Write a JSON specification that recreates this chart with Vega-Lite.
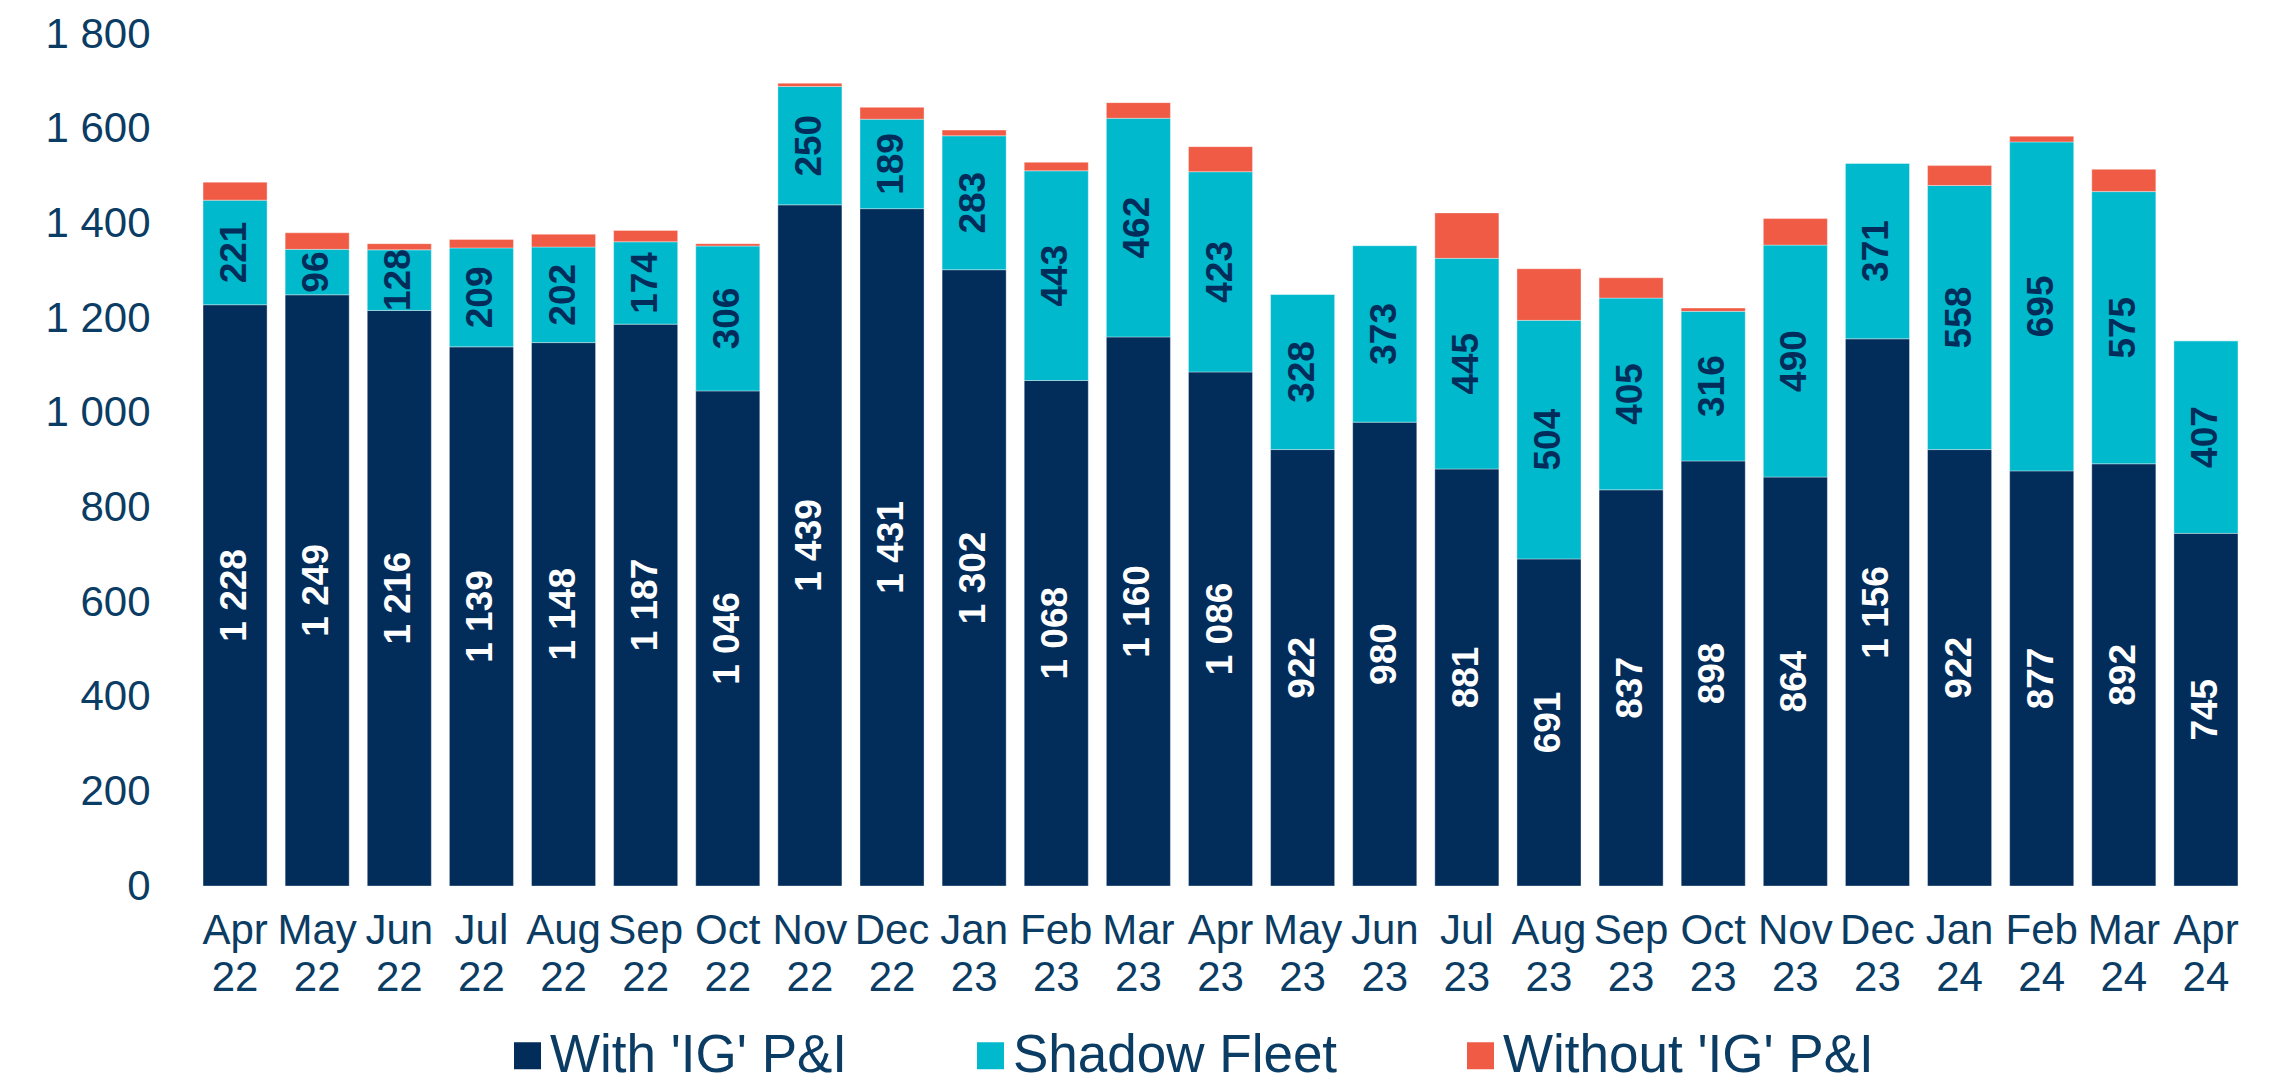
{
  "$schema": "https://vega.github.io/schema/vega-lite/v6.json",
  "width": 2053,
  "height": 852,
  "autosize": {"type": "none"},
  "padding": {"left": 194, "top": 34, "right": 35, "bottom": 196},
  "background": "white",
  "config": {
    "locale": {"number": {"decimal": ".", "thousands": " ", "grouping": [3], "currency": ["", ""]}},
    "font": "Liberation Sans",
    "view": {"stroke": null}
  },
  "data": {"values": [
    {"m": "Apr 22", "s": "With 'IG' P&I", "v": 1228}, {"m": "Apr 22", "s": "Shadow Fleet", "v": 221}, {"m": "Apr 22", "s": "Without 'IG' P&I", "v": 38},
    {"m": "May 22", "s": "With 'IG' P&I", "v": 1249}, {"m": "May 22", "s": "Shadow Fleet", "v": 96}, {"m": "May 22", "s": "Without 'IG' P&I", "v": 35},
    {"m": "Jun 22", "s": "With 'IG' P&I", "v": 1216}, {"m": "Jun 22", "s": "Shadow Fleet", "v": 128}, {"m": "Jun 22", "s": "Without 'IG' P&I", "v": 13},
    {"m": "Jul 22", "s": "With 'IG' P&I", "v": 1139}, {"m": "Jul 22", "s": "Shadow Fleet", "v": 209}, {"m": "Jul 22", "s": "Without 'IG' P&I", "v": 18},
    {"m": "Aug 22", "s": "With 'IG' P&I", "v": 1148}, {"m": "Aug 22", "s": "Shadow Fleet", "v": 202}, {"m": "Aug 22", "s": "Without 'IG' P&I", "v": 27},
    {"m": "Sep 22", "s": "With 'IG' P&I", "v": 1187}, {"m": "Sep 22", "s": "Shadow Fleet", "v": 174}, {"m": "Sep 22", "s": "Without 'IG' P&I", "v": 24},
    {"m": "Oct 22", "s": "With 'IG' P&I", "v": 1046}, {"m": "Oct 22", "s": "Shadow Fleet", "v": 306}, {"m": "Oct 22", "s": "Without 'IG' P&I", "v": 5},
    {"m": "Nov 22", "s": "With 'IG' P&I", "v": 1439}, {"m": "Nov 22", "s": "Shadow Fleet", "v": 250}, {"m": "Nov 22", "s": "Without 'IG' P&I", "v": 7},
    {"m": "Dec 22", "s": "With 'IG' P&I", "v": 1431}, {"m": "Dec 22", "s": "Shadow Fleet", "v": 189}, {"m": "Dec 22", "s": "Without 'IG' P&I", "v": 25},
    {"m": "Jan 23", "s": "With 'IG' P&I", "v": 1302}, {"m": "Jan 23", "s": "Shadow Fleet", "v": 283}, {"m": "Jan 23", "s": "Without 'IG' P&I", "v": 12},
    {"m": "Feb 23", "s": "With 'IG' P&I", "v": 1068}, {"m": "Feb 23", "s": "Shadow Fleet", "v": 443}, {"m": "Feb 23", "s": "Without 'IG' P&I", "v": 18},
    {"m": "Mar 23", "s": "With 'IG' P&I", "v": 1160}, {"m": "Mar 23", "s": "Shadow Fleet", "v": 462}, {"m": "Mar 23", "s": "Without 'IG' P&I", "v": 33},
    {"m": "Apr 23", "s": "With 'IG' P&I", "v": 1086}, {"m": "Apr 23", "s": "Shadow Fleet", "v": 423}, {"m": "Apr 23", "s": "Without 'IG' P&I", "v": 53},
    {"m": "May 23", "s": "With 'IG' P&I", "v": 922}, {"m": "May 23", "s": "Shadow Fleet", "v": 328}, {"m": "May 23", "s": "Without 'IG' P&I", "v": 0},
    {"m": "Jun 23", "s": "With 'IG' P&I", "v": 980}, {"m": "Jun 23", "s": "Shadow Fleet", "v": 373}, {"m": "Jun 23", "s": "Without 'IG' P&I", "v": 0},
    {"m": "Jul 23", "s": "With 'IG' P&I", "v": 881}, {"m": "Jul 23", "s": "Shadow Fleet", "v": 445}, {"m": "Jul 23", "s": "Without 'IG' P&I", "v": 96},
    {"m": "Aug 23", "s": "With 'IG' P&I", "v": 691}, {"m": "Aug 23", "s": "Shadow Fleet", "v": 504}, {"m": "Aug 23", "s": "Without 'IG' P&I", "v": 109},
    {"m": "Sep 23", "s": "With 'IG' P&I", "v": 837}, {"m": "Sep 23", "s": "Shadow Fleet", "v": 405}, {"m": "Sep 23", "s": "Without 'IG' P&I", "v": 43},
    {"m": "Oct 23", "s": "With 'IG' P&I", "v": 898}, {"m": "Oct 23", "s": "Shadow Fleet", "v": 316}, {"m": "Oct 23", "s": "Without 'IG' P&I", "v": 7},
    {"m": "Nov 23", "s": "With 'IG' P&I", "v": 864}, {"m": "Nov 23", "s": "Shadow Fleet", "v": 490}, {"m": "Nov 23", "s": "Without 'IG' P&I", "v": 56},
    {"m": "Dec 23", "s": "With 'IG' P&I", "v": 1156}, {"m": "Dec 23", "s": "Shadow Fleet", "v": 371}, {"m": "Dec 23", "s": "Without 'IG' P&I", "v": 0},
    {"m": "Jan 24", "s": "With 'IG' P&I", "v": 922}, {"m": "Jan 24", "s": "Shadow Fleet", "v": 558}, {"m": "Jan 24", "s": "Without 'IG' P&I", "v": 42},
    {"m": "Feb 24", "s": "With 'IG' P&I", "v": 877}, {"m": "Feb 24", "s": "Shadow Fleet", "v": 695}, {"m": "Feb 24", "s": "Without 'IG' P&I", "v": 12},
    {"m": "Mar 24", "s": "With 'IG' P&I", "v": 892}, {"m": "Mar 24", "s": "Shadow Fleet", "v": 575}, {"m": "Mar 24", "s": "Without 'IG' P&I", "v": 47},
    {"m": "Apr 24", "s": "With 'IG' P&I", "v": 745}, {"m": "Apr 24", "s": "Shadow Fleet", "v": 407}, {"m": "Apr 24", "s": "Without 'IG' P&I", "v": 0}
  ]},
  "transform": [
    {"calculate": "indexof([\"With 'IG' P&I\", \"Shadow Fleet\", \"Without 'IG' P&I\"], datum.s)", "as": "ord"},
    {"stack": "v", "groupby": ["m"], "sort": [{"field": "ord", "order": "ascending"}], "as": ["v0", "v1"]},
    {"calculate": "(datum.v0 + datum.v1) / 2", "as": "mid"}
  ],
  "encoding": {
    "x": {
      "field": "m", "type": "nominal", "sort": null, "title": null,
      "scale": {"paddingInner": 0.22, "paddingOuter": 0.11},
      "axis": {
        "labelAngle": 0, "labelExpr": "split(datum.label, ' ')",
        "labelFontSize": 42, "labelLineHeight": 47, "labelColor": "#0B3C64",
        "labelPadding": 24, "ticks": false, "domain": false, "grid": false,
        "labelFont": "Liberation Sans"
      }
    }
  },
  "layer": [
    {
      "mark": {"type": "bar", "stroke": "#ffffff", "strokeWidth": 0.6, "strokeOpacity": 0.6},
      "encoding": {
        "y": {
          "field": "v0", "type": "quantitative", "title": null,
          "scale": {"domain": [0, 1800], "nice": false, "zero": true},
          "axis": {
            "values": [0, 200, 400, 600, 800, 1000, 1200, 1400, 1600, 1800],
            "labelExpr": "format(datum.value, ',')", "labelFontSize": 42, "labelColor": "#0B3C64",
            "labelPadding": 44, "ticks": false, "domain": false, "grid": false,
            "labelFont": "Liberation Sans"
          }
        },
        "y2": {"field": "v1"},
        "color": {
          "field": "s", "type": "nominal", "title": null,
          "scale": {
            "domain": ["With 'IG' P&I", "Shadow Fleet", "Without 'IG' P&I"],
            "range": ["#022C5A", "#00B9CC", "#F05B46"]
          },
          "legend": {
            "orient": "none", "legendX": 307, "legendY": 995,
            "direction": "horizontal", "symbolType": "square", "symbolSize": 729,
            "symbolStrokeWidth": 0, "labelFontSize": 53, "labelColor": "#0B3C64",
            "labelOffset": -4, "columnPadding": 116, "labelLimit": 600,
            "labelFont": "Liberation Sans", "padding": 0
          }
        }
      }
    },
    {
      "transform": [{"filter": "datum.ord < 2"}],
      "mark": {"type": "text", "angle": 270, "fontSize": 37, "fontWeight": "bold", "font": "Liberation Sans", "baseline": "middle", "align": "center"},
      "encoding": {
        "y": {"field": "mid", "type": "quantitative"},
        "text": {"field": "v", "type": "quantitative", "format": ","},
        "color": {"condition": {"test": "datum.ord === 0", "value": "#FFFFFF"}, "value": "#022C5A"}
      }
    }
  ]
}
